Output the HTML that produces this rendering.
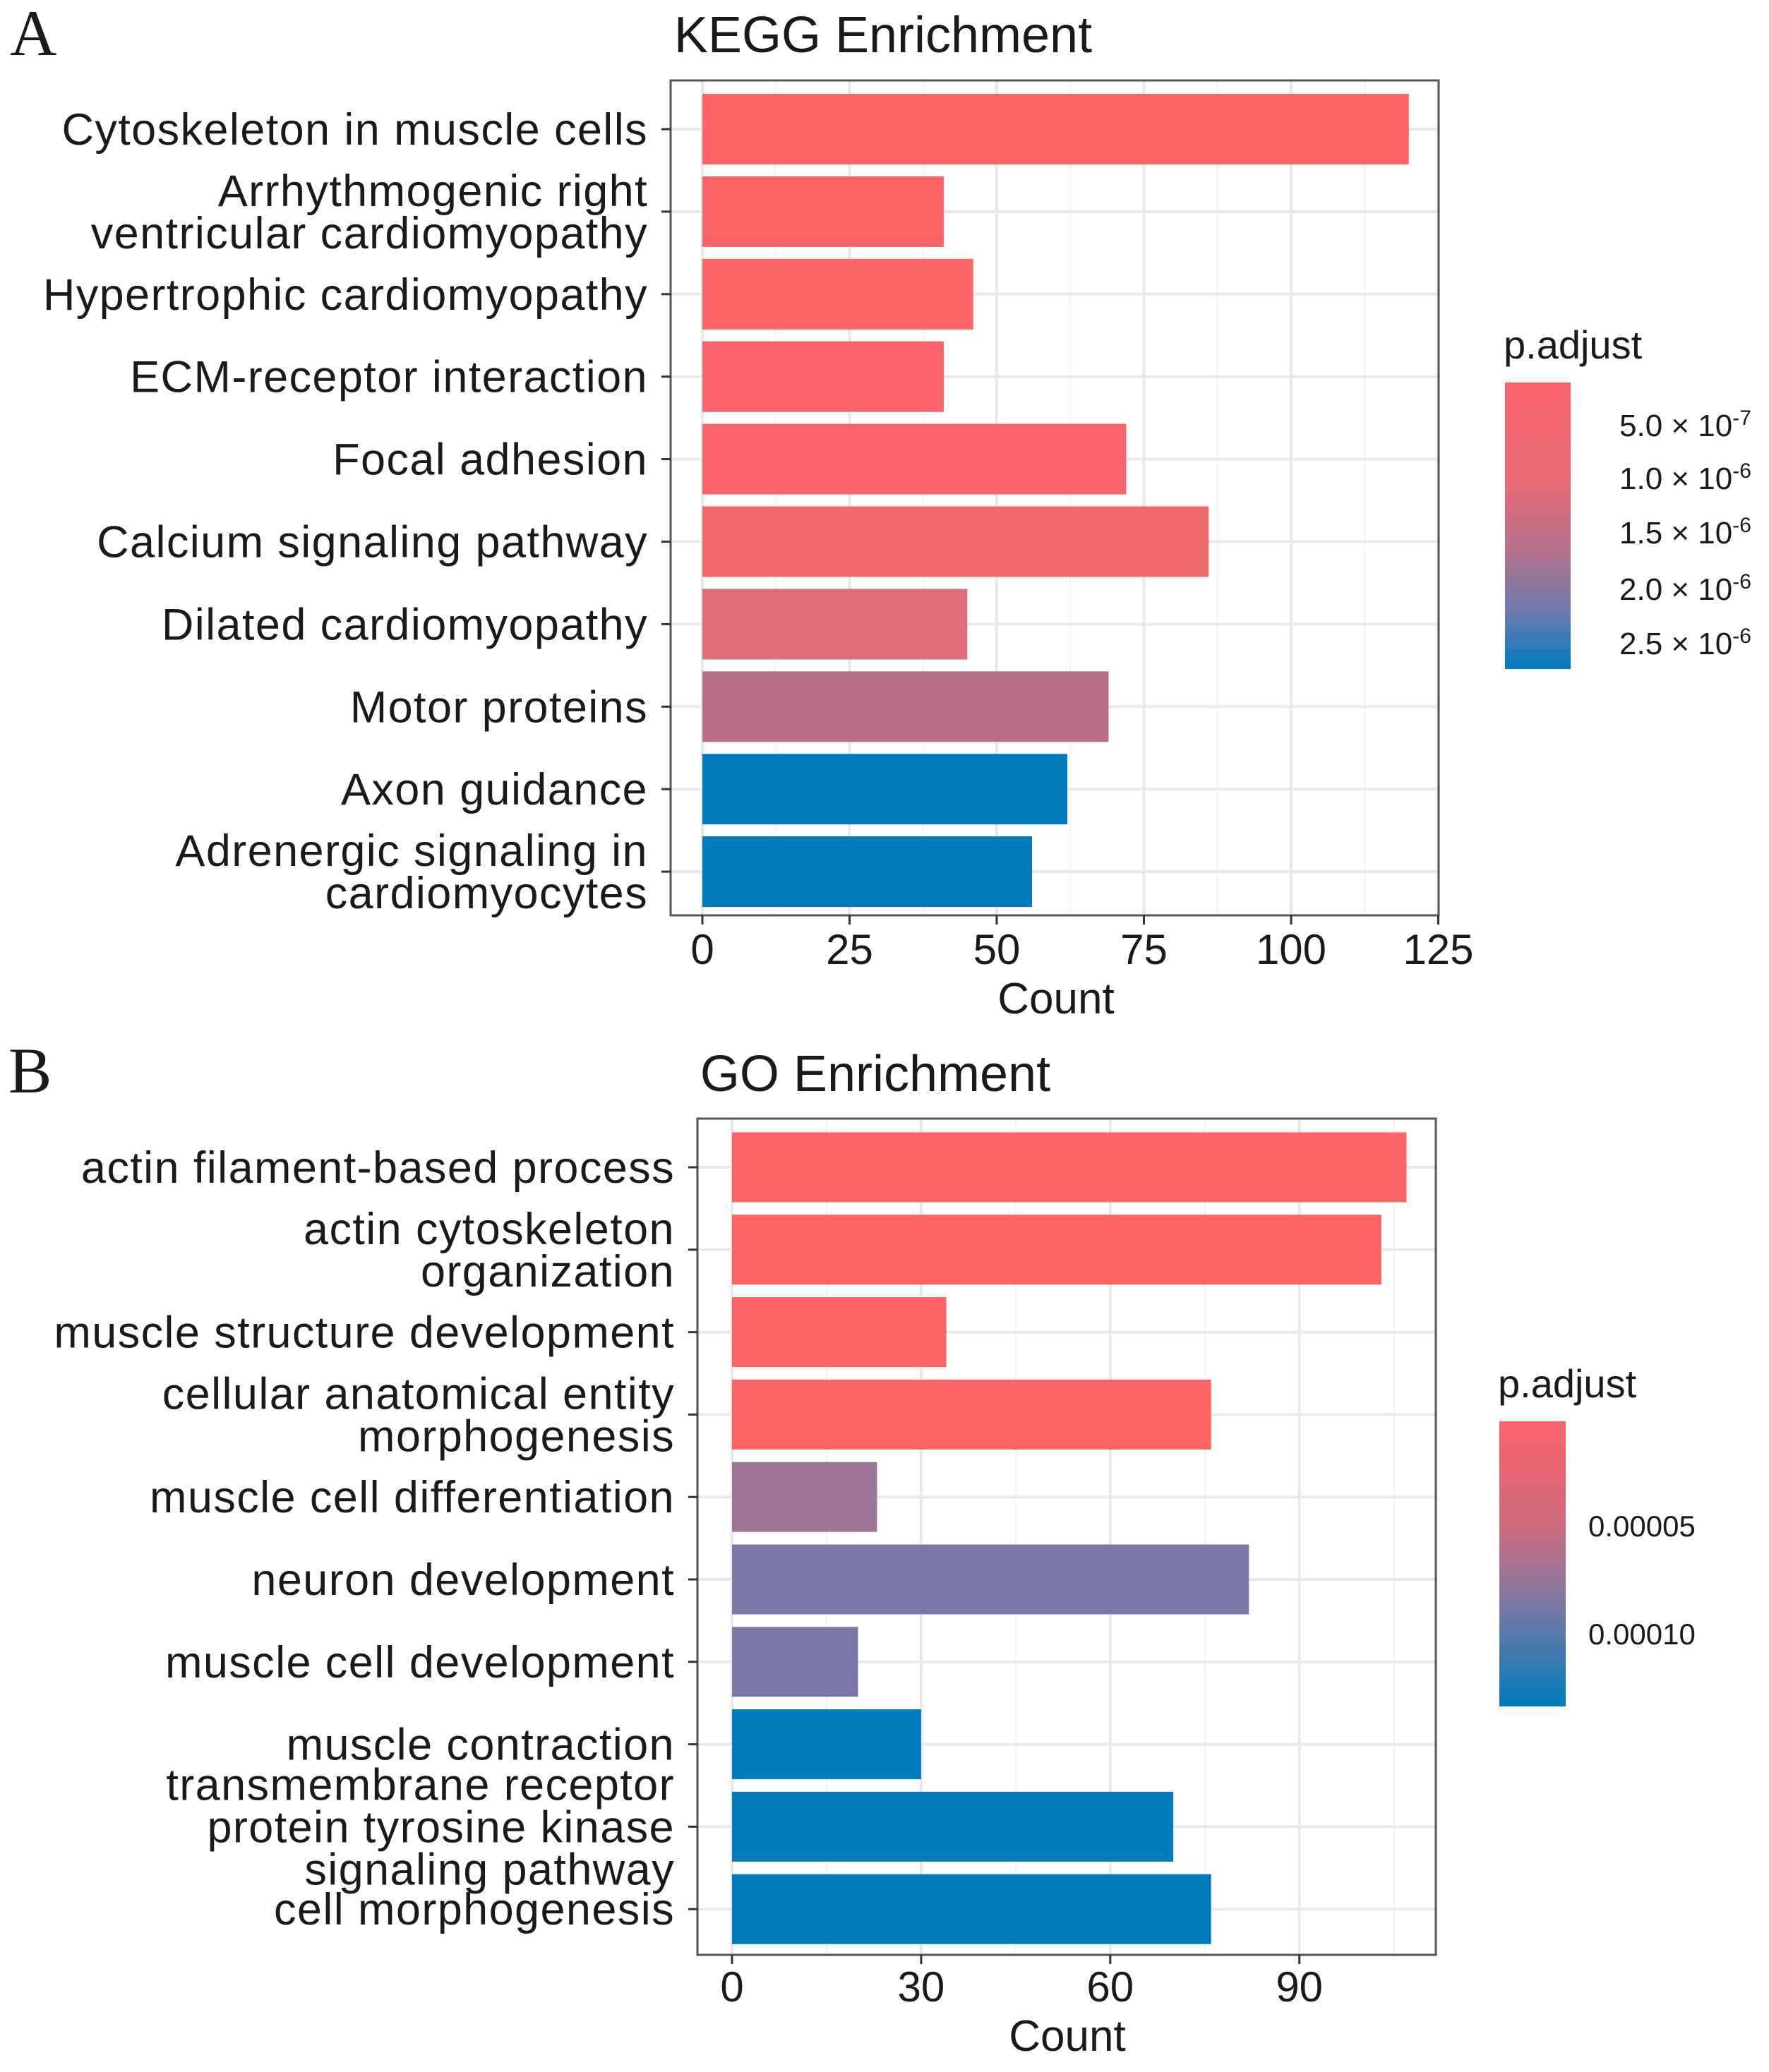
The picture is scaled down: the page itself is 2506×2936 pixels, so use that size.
<!DOCTYPE html>
<html><head><meta charset="utf-8"><style>
body{margin:0;background:#fff;}
svg text{font-family:"Liberation Sans",sans-serif;fill:#1a1a1a;}
</style></head><body>
<svg id="chart" width="2506" height="2931" viewBox="0 0 2506 2931" xmlns="http://www.w3.org/2000/svg">
<defs>
<linearGradient id="gA" x1="0" y1="0" x2="0" y2="1">
<stop offset="0" stop-color="#F8636A"/><stop offset="0.35" stop-color="#E76A74"/><stop offset="0.6" stop-color="#B27290"/><stop offset="0.8" stop-color="#6C7AAE"/><stop offset="1" stop-color="#007BBB"/>
</linearGradient>
<linearGradient id="gB" x1="0" y1="0" x2="0" y2="1">
<stop offset="0" stop-color="#F8636A"/><stop offset="0.35" stop-color="#D26B7C"/><stop offset="0.6" stop-color="#8A779E"/><stop offset="1" stop-color="#007BBB"/>
</linearGradient>
</defs>
<text x="14" y="78" style="font-family:'Liberation Serif',serif;font-size:92px">A</text>
<text x="12" y="1548" style="font-family:'Liberation Serif',serif;font-size:92px">B</text>
<g id="pA"></g>
<g id="pB"></g>
<g>
<text x="2130" y="508" font-size="56">p.adjust</text>
<rect x="2132" y="542" width="93" height="406" fill="url(#gA)"/>
<g font-size="44">
<text x="2294" y="618">5.0 × 10<tspan dy="-16" font-size="30">-7</tspan></text>
<text x="2294" y="693">1.0 × 10<tspan dy="-16" font-size="30">-6</tspan></text>
<text x="2294" y="770">1.5 × 10<tspan dy="-16" font-size="30">-6</tspan></text>
<text x="2294" y="850">2.0 × 10<tspan dy="-16" font-size="30">-6</tspan></text>
<text x="2294" y="927">2.5 × 10<tspan dy="-16" font-size="30">-6</tspan></text>
</g>
</g>
<g>
<text x="2122" y="1980" font-size="56">p.adjust</text>
<rect x="2124" y="2014" width="94" height="404" fill="url(#gB)"/>
<text x="2250" y="2177" font-size="42">0.00005</text>
<text x="2250" y="2330" font-size="42">0.00010</text>
</g>
</svg>
<script>
const keggTerms=[["Cytoskeleton in muscle cells"],["Arrhythmogenic right","ventricular cardiomyopathy"],["Hypertrophic cardiomyopathy"],["ECM-receptor interaction"],["Focal adhesion"],["Calcium signaling pathway"],["Dilated cardiomyopathy"],["Motor proteins"],["Axon guidance"],["Adrenergic signaling in","cardiomyocytes"]];
const keggCounts=[120,41,46,41,72,86,45,69,62,56];
const keggColors=["#FF6464","#FA6466","#FA6466","#F9646A","#F9646A","#EF686A","#E06C78","#B87088","#007BBB","#007BBB"];
const keggTicks=[0,25,50,75,100,125];
const goTerms=[["actin filament-based process"],["actin cytoskeleton","organization"],["muscle structure development"],["cellular anatomical entity","morphogenesis"],["muscle cell differentiation"],["neuron development"],["muscle cell development"],["muscle contraction"],["transmembrane receptor","protein tyrosine kinase","signaling pathway"],["cell morphogenesis"]];
const goCounts=[107,103,34,76,23,82,20,30,70,76];
const goColors=["#FF6464","#FF6464","#FF6464","#FF6464","#9C7495","#7B78A6","#7B78A6","#007BBB","#007BBB","#007BBB"];
const goTicks=[0,30,60,90];
const NS="http://www.w3.org/2000/svg";
function mk(p,t,a){const e=document.createElementNS(NS,t);for(const k in a)e.setAttribute(k,a[k]);p.appendChild(e);return e;}
function panel(gid,cfg){
 const g=document.getElementById(gid);
 const sx=v=>cfg.x0+(v-0)*cfg.ppu;
 const sy=i=>cfg.y0+i*cfg.step;
 mk(g,'rect',{x:cfg.L,y:cfg.T,width:cfg.R-cfg.L,height:cfg.B-cfg.T,fill:'#fff'});
 const maxV=(cfg.R-cfg.x0)/cfg.ppu;
 for(let v=cfg.minor/2;v<=maxV;v+=cfg.minor){mk(g,'line',{x1:sx(v),x2:sx(v),y1:cfg.T,y2:cfg.B,stroke:'#f2f2f2','stroke-width':2});}
 cfg.ticks.forEach(v=>{mk(g,'line',{x1:sx(v),x2:sx(v),y1:cfg.T,y2:cfg.B,stroke:'#e8e8e8','stroke-width':4});});
 cfg.terms.forEach((t,i)=>{mk(g,'line',{x1:cfg.L,x2:cfg.R,y1:sy(i),y2:sy(i),stroke:'#e8e8e8','stroke-width':4});});
 cfg.counts.forEach((c,i)=>{
  const r=mk(g,'rect',{x:sx(0),y:sy(i)-cfg.bh/2,width:sx(c)-sx(0),height:cfg.bh,fill:cfg.colors[i]});
  
  
 });
 mk(g,'rect',{x:cfg.L,y:cfg.T,width:cfg.R-cfg.L,height:cfg.B-cfg.T,fill:'none',stroke:'#555',"stroke-width":3});
 cfg.terms.forEach((t,i)=>{
  mk(g,'line',{x1:cfg.L-13,x2:cfg.L,y1:sy(i),y2:sy(i),stroke:'#333','stroke-width':3});
  const n=t.length, lh=60;
  t.forEach((s,j)=>{const tx=mk(g,'text',{x:cfg.L-32,y:sy(i)+22+(j-(n-1)/2)*lh,'text-anchor':'end','font-size':63,'letter-spacing':1.4});tx.textContent=s;
   
   });
 });
 cfg.ticks.forEach(v=>{
  mk(g,'line',{x1:sx(v),x2:sx(v),y1:cfg.B,y2:cfg.B+13,stroke:'#333','stroke-width':3});
  const tx=mk(g,'text',{x:sx(v),y:cfg.tickY,'text-anchor':'middle','font-size':60});tx.textContent=v;
  
  
 });
 const xt=mk(g,'text',{x:cfg.cx,y:cfg.countY,'text-anchor':'middle','font-size':62});xt.textContent='Count';
 
 
 const tt=mk(g,'text',{x:cfg.titleX,y:cfg.titleY,'text-anchor':'middle','font-size':72});tt.textContent=cfg.title;
 
 
}
panel('pA',{L:950,R:2038,T:114,B:1297,x0:995,ppu:8.34,y0:183,step:116.9,bh:100,terms:keggTerms,counts:keggCounts,colors:keggColors,ticks:keggTicks,minor:25,tickY:1366,countY:1436,cx:1496,title:'KEGG Enrichment',titleX:1251,titleY:74});
panel('pB',{L:988,R:2034,T:1585,B:2770,x0:1037,ppu:8.93,y0:1654,step:116.8,bh:99,terms:goTerms,counts:goCounts,colors:goColors,ticks:goTicks,minor:30,tickY:2836,countY:2906,cx:1512,title:'GO Enrichment',titleX:1240,titleY:1546});
</script>
</body></html>
